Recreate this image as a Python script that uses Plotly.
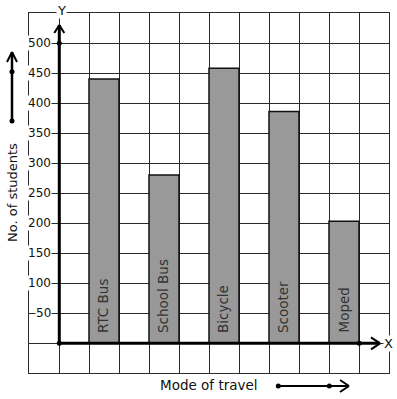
import plotly.graph_objects as go

# ---- data ----
categories = ["RTC Bus", "School Bus", "Bicycle", "Scooter", "Moped"]
students = [440, 280, 458, 386, 203]
y_tick_values = [50, 100, 150, 200, 250, 300, 350, 400, 450, 500]
y_tick_labels = ["50", "100", "150", "200", "250", "300", "350", "400", "450", "500"]
x_title = "Mode of travel"
y_title = "No. of students"

# bar centres: every other grid cell starting at cell 1
x_pos = [1.5 + 2 * i for i in range(len(categories))]

W, H = 397, 399
ML, MR, MT, MB = 29, 8, 13, 26
PW = W - ML - MR
PH = H - MT - MB

def px(xp):
    return (xp - ML) / PW

def py(yp):
    return (H - MB - yp) / PH

FONT = "DejaVu Sans"

fig = go.Figure()
fig.add_trace(go.Bar(
    x=x_pos, y=students, width=1,
    marker=dict(color="#999999", line=dict(color="#111111", width=1.5)),
    hoverinfo="skip",
))

annotations = []
# bar labels (vertical, at bottom of each bar)
for xc, name in zip(x_pos, categories):
    annotations.append(dict(
        x=xc, y=0, xref="x", yref="y", text=name, showarrow=False,
        textangle=-90, xanchor="center", yanchor="bottom", yshift=8, xshift=-1,
        font=dict(family=FONT, size=13.5, color="#333333"),
    ))
# y tick labels
for v, lab in zip(y_tick_values, y_tick_labels):
    annotations.append(dict(
        x=0, y=v, xref="x", yref="y", text=lab, showarrow=False,
        xanchor="right", yanchor="middle", xshift=-7,
        bgcolor="white", borderpad=0,
        font=dict(family=FONT, size=12, color="#111111"),
    ))
# axis letters
annotations.append(dict(x=px(61), y=py(10), xref="paper", yref="paper", text="Y",
                        showarrow=False, xanchor="center", yanchor="middle",
                        bgcolor="white", borderpad=0,
                        font=dict(family=FONT, size=13, color="#111111")))
annotations.append(dict(x=px(388.5), y=py(343), xref="paper", yref="paper", text="X",
                        showarrow=False, xanchor="center", yanchor="middle",
                        bgcolor="white", borderpad=0,
                        font=dict(family=FONT, size=13, color="#111111")))
# titles
annotations.append(dict(x=px(12), y=py(193), xref="paper", yref="paper", text=y_title,
                        showarrow=False, textangle=-90, xanchor="center", yanchor="middle",
                        font=dict(family=FONT, size=13, color="#111111")))
annotations.append(dict(x=px(208.5), y=py(385), xref="paper", yref="paper", text=x_title,
                        showarrow=False, xanchor="center", yanchor="middle",
                        font=dict(family=FONT, size=13.5, color="#111111")))

shapes = []
def line(x0, y0, x1, y1, w=2.5):
    shapes.append(dict(type="line", xref="paper", yref="paper",
                       x0=px(x0), y0=py(y0), x1=px(x1), y1=py(y1),
                       line=dict(color="black", width=w)))

def dot(xc, yc, r=2.5):
    shapes.append(dict(type="circle", xref="paper", yref="paper",
                       x0=px(xc - r), x1=px(xc + r), y0=py(yc + r), y1=py(yc - r),
                       fillcolor="black", line=dict(color="black", width=0)))

ox, oy = 59.3, 343.3
# main Y axis with chevron
line(ox, oy, ox, 25, 3)
line(ox - 5, 33, ox, 25, 2)
line(ox + 5, 33, ox, 25, 2)
# main X axis with chevron
line(ox, oy, 380, oy, 3)
line(371, oy - 6, 380, oy, 2)
line(371, oy + 6, 380, oy, 2)
dot(ox, oy)
dot(ox, 43.3)
dot(359.3, oy)

# left decorative arrow
line(12, 121, 12, 52, 2.5)
line(7, 62, 12, 52, 2)
line(17, 62, 12, 52, 2)
dot(12, 121)
dot(12, 71.7)

# bottom decorative arrow
line(278.3, 386, 349, 386, 2)
line(340, 380, 349, 386, 2)
line(340, 392, 349, 386, 2)
dot(278.3, 386)
dot(329.3, 386)

fig.update_layout(
    width=W, height=H,
    margin=dict(l=ML, r=MR, t=MT, b=MB, pad=0),
    paper_bgcolor="white", plot_bgcolor="white",
    showlegend=False,
    annotations=annotations, shapes=shapes,
    xaxis=dict(range=[-1, 11], tick0=0, dtick=1, showgrid=True, gridcolor="#2a2a2a",
               gridwidth=1, zeroline=False, showticklabels=False, ticks="",
               showline=True, mirror=True, linecolor="#2a2a2a", linewidth=1, fixedrange=True),
    yaxis=dict(range=[-50, 550], tick0=0, dtick=50, showgrid=True, gridcolor="#2a2a2a",
               gridwidth=1, zeroline=False, showticklabels=False, ticks="",
               showline=True, mirror=True, linecolor="#2a2a2a", linewidth=1, fixedrange=True),
)

fig.write_html("out.html", config={"displayModeBar": False})
